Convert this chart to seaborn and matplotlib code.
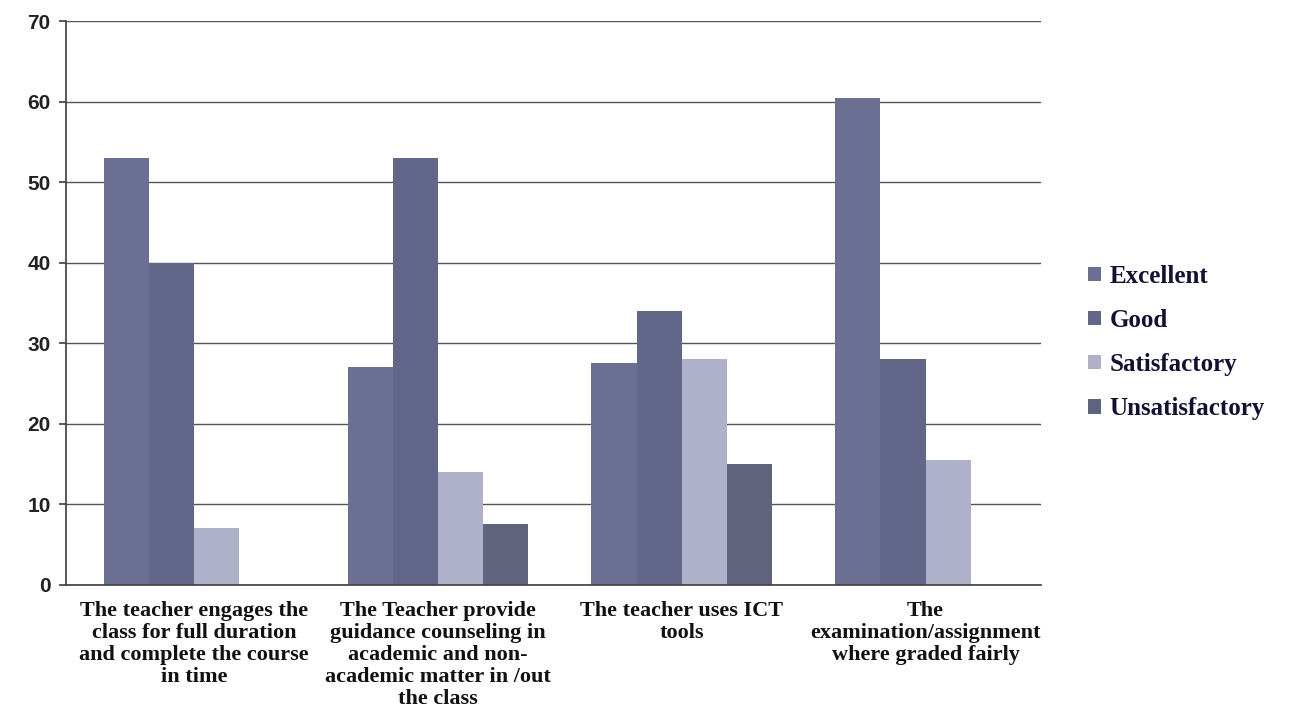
import seaborn as sns
import matplotlib.pyplot as plt
import pandas as pd

# survey categories (x axis)
questions = [
    "The teacher engages the\nclass for full duration\nand complete the course\nin time",
    "The Teacher provide\nguidance counseling in\nacademic and non-\nacademic matter in /out\nthe class",
    "The teacher uses ICT\ntools",
    "The\nexamination/assignment\nwhere graded fairly",
]
ratings = ["Excellent", "Good", "Satisfactory", "Unsatisfactory"]

# values, per rating
excellent = [53, 27, 27.5, 60.5]
good = [40, 53, 34, 28]
satisfactory = [7, 14, 28, 15.5]
unsatisfactory = [0, 7.5, 15, 0]

colors = ["#6b7092", "#62678a", "#aeb1c9", "#5f637e"]

df = pd.DataFrame({
    "Question": questions * 4,
    "Rating": [r for r in ratings for _ in questions],
    "Value": excellent + good + satisfactory + unsatisfactory,
})

sns.set_theme(style="white")
plt.rcParams['font.family'] = ['Liberation Sans', 'DejaVu Sans']

fig = plt.figure(figsize=(12.92, 7.13), dpi=100)
ax = fig.add_axes([0.051, 0.18, 0.755, 0.79])

sns.barplot(data=df, x="Question", y="Value", hue="Rating", hue_order=ratings,
            palette=colors, width=0.74, saturation=1, linewidth=0, ax=ax)

ax.set_ylim(0, 70)
ax.set_yticks(range(0, 71, 10))
ax.set_xlim(-0.525, 3.475)
ax.yaxis.grid(True, color="#555555", linewidth=1.0)
ax.set_axisbelow(True)
ax.set_xlabel("")
ax.set_ylabel("")
for side in ["top", "right"]:
    ax.spines[side].set_visible(False)
for side in ["left", "bottom"]:
    ax.spines[side].set_color("#444444")
ax.tick_params(axis="y", labelsize=15, length=5, color="#444444", left=True, pad=6)
ax.tick_params(axis="x", length=0, pad=12)
for lbl in ax.get_yticklabels():
    lbl.set_fontweight("bold")
    lbl.set_color("#222222")
ax.set_xticks(range(len(questions)))
ax.set_xticklabels(questions, fontsize=16, fontweight="bold",
                   family=["Liberation Serif", "DejaVu Serif"], color="#111111",
                   linespacing=1.12, va="top")

leg = ax.legend(loc="center left", bbox_to_anchor=(1.025, 0.43), frameon=False,
                prop={"family": "Liberation Serif", "weight": "bold", "size": 18},
                handlelength=0.5, handleheight=0.5, handletextpad=0.35,
                labelspacing=0.85)
for t in leg.get_texts():
    t.set_color("#111133")

plt.savefig("out.png", dpi=100)
